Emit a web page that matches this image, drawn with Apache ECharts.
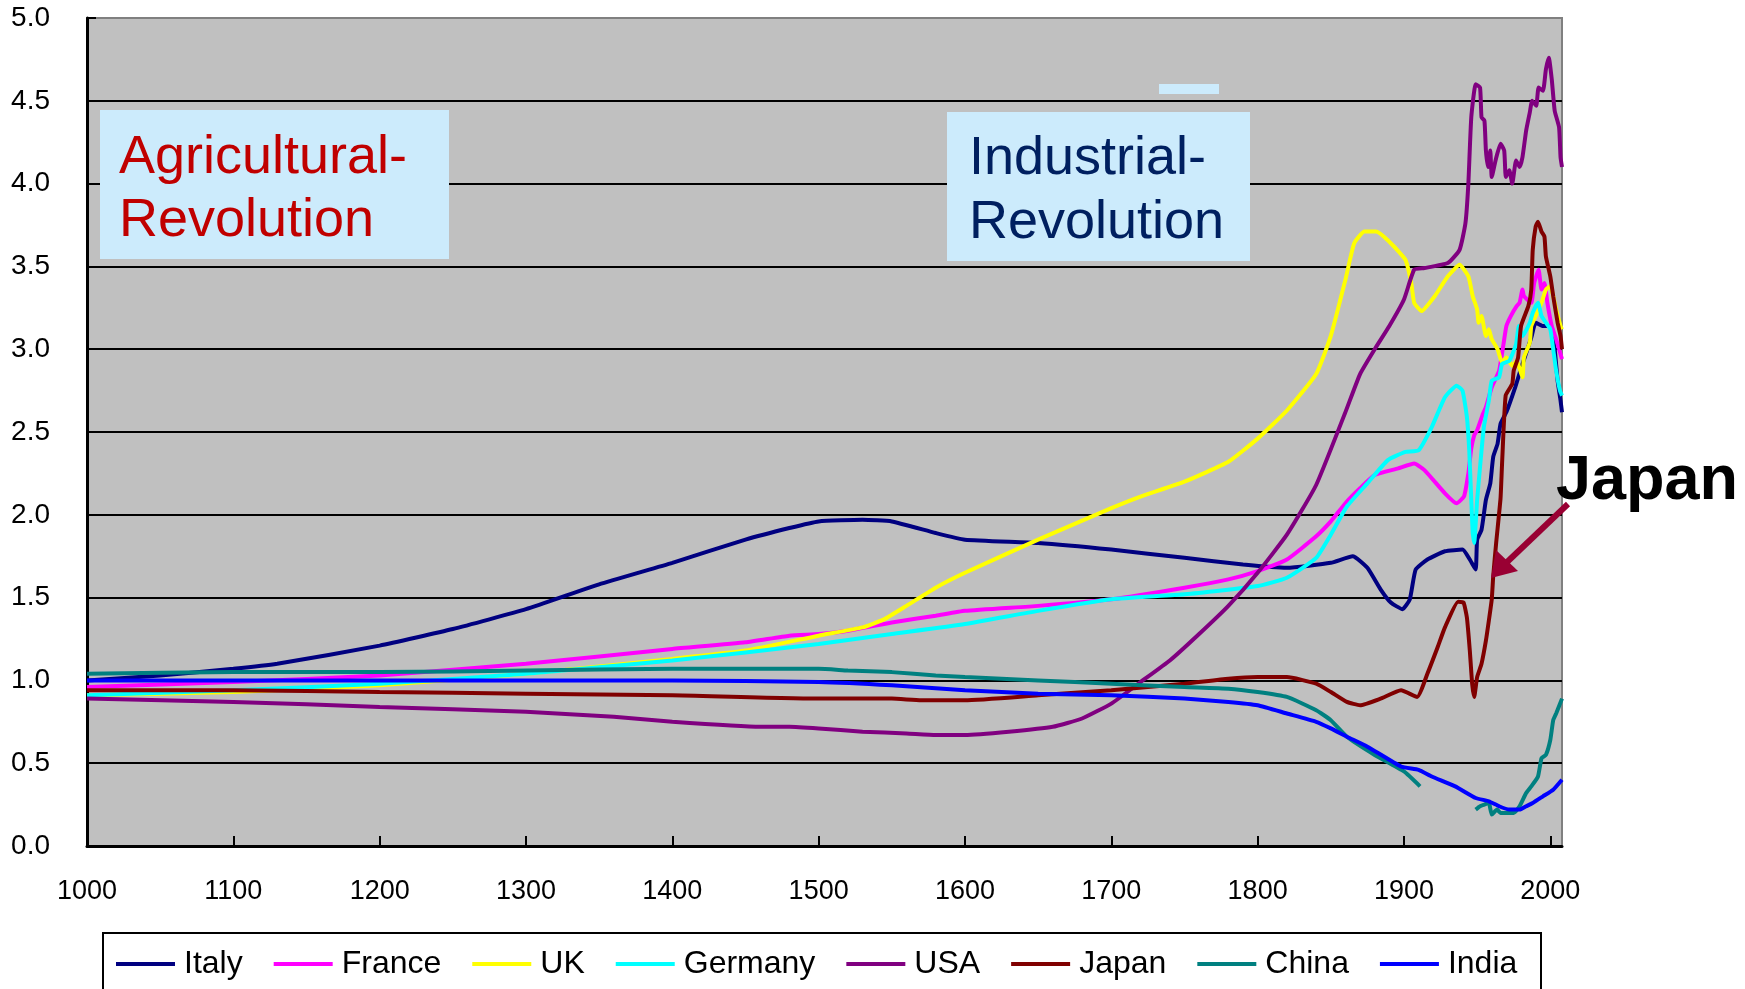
<!DOCTYPE html>
<html>
<head>
<meta charset="utf-8">
<script src="https://cdn.jsdelivr.net/npm/echarts@6/dist/echarts.min.js"></script>
<style>
html,body{margin:0;padding:0;background:#fff;}
#chart{width:1745px;height:989px;}
</style>
</head>
<body>
<div id="chart"></div>
<script>
// ---- data (year, relative value) ----
const seriesNames = ['Italy','France','UK','Germany','USA','Japan','China','India'];
const seriesColors = ['#000080','#FF00FF','#FFFF00','#00FFFF','#800080','#800000','#008080','#0000FF'];
const xTicks = [1000,1100,1200,1300,1400,1500,1600,1700,1800,1900,2000];
const yTicks = [0,0.5,1,1.5,2,2.5,3,3.5,4,4.5,5];

const italy = [[1000,1.0],[1050,1.03],[1100,1.07],[1130,1.1],[1200,1.21],[1250,1.31],[1300,1.43],[1350,1.58],[1400,1.71],[1450,1.85],[1480,1.92],[1500,1.96],[1530,1.97],[1550,1.96],[1580,1.89],[1600,1.85],[1650,1.83],[1700,1.79],[1750,1.74],[1790,1.70],[1820,1.68],[1850,1.71],[1865,1.75],[1875,1.68],[1884,1.55],[1891,1.47],[1899,1.43],[1904,1.49],[1908,1.67],[1916,1.73],[1928,1.78],[1940,1.79],[1945,1.73],[1949,1.67],[1950,1.85],[1953,1.91],[1956,2.09],[1959,2.19],[1961,2.35],[1964,2.43],[1966,2.55],[1970,2.62],[1976,2.77],[1981,2.91],[1987,3.07],[1990,3.16],[1995,3.14],[2000,3.14],[2003,3.0],[2005,2.81],[2007,2.69],[2008,2.62]];
const france = [[1000,0.96],[1100,0.99],[1200,1.03],[1300,1.1],[1400,1.19],[1450,1.23],[1480,1.27],[1500,1.28],[1520,1.3],[1550,1.35],[1580,1.39],[1600,1.42],[1650,1.45],[1700,1.49],[1750,1.56],[1780,1.61],[1800,1.66],[1820,1.73],[1840,1.87],[1850,1.96],[1860,2.07],[1870,2.16],[1880,2.24],[1896,2.28],[1907,2.31],[1914,2.27],[1928,2.13],[1936,2.07],[1941,2.11],[1944,2.25],[1946,2.4],[1948,2.48],[1950,2.51],[1954,2.61],[1956,2.65],[1960,2.77],[1965,2.87],[1968,3.03],[1970,3.14],[1973,3.2],[1977,3.26],[1979,3.28],[1981,3.36],[1982,3.32],[1987,3.28],[1989,3.4],[1992,3.48],[1994,3.36],[1996,3.4],[1998,3.28],[2001,3.14],[2004,3.06],[2008,2.94]];
const uk = [[1000,0.91],[1100,0.93],[1200,0.97],[1300,1.04],[1400,1.13],[1450,1.18],[1500,1.27],[1530,1.32],[1545,1.37],[1560,1.45],[1580,1.56],[1600,1.65],[1650,1.85],[1700,2.04],[1720,2.11],[1750,2.2],[1780,2.32],[1800,2.46],[1820,2.63],[1840,2.85],[1850,3.08],[1860,3.42],[1866,3.64],[1873,3.71],[1881,3.71],[1891,3.64],[1901,3.54],[1905,3.4],[1907,3.28],[1912,3.23],[1921,3.32],[1930,3.44],[1938,3.51],[1944,3.44],[1947,3.32],[1950,3.24],[1951,3.16],[1953,3.2],[1956,3.08],[1958,3.12],[1960,3.06],[1964,3.0],[1967,2.92],[1970,2.95],[1974,2.9],[1977,2.93],[1981,2.83],[1982,2.95],[1986,3.04],[1987,3.14],[1990,3.2],[1994,3.28],[1997,3.36],[2000,3.38],[2002,3.32],[2004,3.24],[2007,3.14],[2008,3.12]];
const germany = [[1000,0.91],[1100,0.94],[1200,0.98],[1300,1.04],[1400,1.12],[1500,1.22],[1550,1.28],[1600,1.34],[1650,1.42],[1700,1.49],[1750,1.52],[1800,1.57],[1820,1.62],[1840,1.74],[1850,1.88],[1861,2.05],[1875,2.19],[1889,2.33],[1901,2.38],[1910,2.39],[1919,2.53],[1928,2.71],[1936,2.78],[1940,2.75],[1943,2.59],[1944.6,2.39],[1946,2.09],[1947,1.89],[1948,1.83],[1950,2.09],[1952,2.29],[1954.6,2.53],[1958,2.69],[1960,2.81],[1965,2.83],[1967,2.91],[1972,2.93],[1976.6,3.03],[1978.5,3.14],[1981,3.08],[1986,3.16],[1988,3.22],[1991.6,3.28],[1994,3.2],[1997,3.16],[2000,3.12],[2002,3.0],[2004,2.87],[2006.6,2.75],[2008,2.72]];
const usa = [[1000,0.89],[1100,0.87],[1200,0.84],[1300,0.81],[1360,0.78],[1400,0.75],[1460,0.72],[1480,0.72],[1500,0.71],[1530,0.69],[1560,0.68],[1580,0.67],[1600,0.67],[1630,0.69],[1660,0.72],[1680,0.77],[1700,0.86],[1720,0.99],[1740,1.12],[1760,1.28],[1780,1.45],[1800,1.65],[1820,1.88],[1840,2.18],[1860,2.62],[1870,2.85],[1880,3.0],[1890,3.14],[1900,3.3],[1907,3.48],[1914,3.49],[1930,3.52],[1938,3.6],[1942,3.76],[1944,4.0],[1946,4.4],[1949,4.6],[1952,4.58],[1953,4.4],[1955,4.38],[1956,4.2],[1957.5,4.1],[1959,4.2],[1960,4.04],[1962.6,4.14],[1966,4.24],[1968.5,4.2],[1969.6,4.04],[1972,4.08],[1974,4.0],[1976.6,4.14],[1979,4.1],[1981,4.16],[1983.5,4.32],[1986,4.43],[1987.6,4.5],[1990.4,4.47],[1992,4.58],[1995,4.56],[1997,4.69],[1999,4.76],[2001,4.63],[2003,4.44],[2006,4.34],[2007,4.16],[2008,4.1]];
const japan = [[1000,0.94],[1100,0.94],[1200,0.93],[1300,0.92],[1400,0.91],[1500,0.89],[1550,0.89],[1570,0.88],[1600,0.88],[1650,0.91],[1700,0.94],[1750,0.98],[1780,1.01],[1800,1.02],[1820,1.02],[1840,0.98],[1850,0.93],[1861,0.87],[1870,0.85],[1884,0.89],[1898,0.94],[1909,0.9],[1916,1.04],[1923,1.2],[1928,1.32],[1937,1.475],[1940.7,1.47],[1943,1.38],[1945,1.18],[1946.6,0.98],[1948,0.9],[1950,1.02],[1953,1.1],[1956,1.24],[1958,1.36],[1960,1.49],[1961,1.63],[1963,1.83],[1966,2.1],[1967,2.3],[1969.5,2.72],[1974,2.79],[1975,2.87],[1978,2.95],[1980,3.14],[1985,3.26],[1987,3.36],[1988,3.6],[1990,3.74],[1991.6,3.77],[1994,3.71],[1996,3.68],[1997,3.56],[2000,3.44],[2002,3.32],[2005,3.16],[2007,3.08],[2008,3.0]];
const china = [[1000,1.04],[1100,1.05],[1200,1.05],[1300,1.06],[1400,1.07],[1500,1.07],[1520,1.06],[1550,1.05],[1580,1.03],[1600,1.02],[1650,1.0],[1700,0.98],[1750,0.96],[1780,0.95],[1800,0.93],[1820,0.9],[1840,0.82],[1850,0.76],[1861,0.66],[1880,0.55],[1900,0.45],[1911,0.36],[1930,null],[1949,0.22],[1952,0.24],[1955,0.25],[1958,0.26],[1960,0.19],[1963.6,0.22],[1966,0.2],[1970,0.2],[1975,0.2],[1979,0.24],[1983.5,0.32],[1987,0.36],[1991.6,0.42],[1994,0.53],[1997,0.55],[2000,0.64],[2002,0.76],[2004,0.8],[2008,0.89]];
const india = [[1000,1.0],[1200,1.0],[1400,1.0],[1500,0.99],[1550,0.97],[1600,0.94],[1650,0.92],[1700,0.91],[1750,0.89],[1780,0.87],[1800,0.85],[1820,0.8],[1840,0.75],[1850,0.71],[1861,0.66],[1875,0.6],[1898,0.48],[1910,0.46],[1919,0.42],[1935,0.36],[1949,0.29],[1958,0.27],[1965,0.24],[1972,0.22],[1979,0.22],[1983.5,0.24],[1988,0.26],[1995,0.3],[2002,0.34],[2008,0.4]];
const seriesData = [italy, france, uk, germany, usa, japan, china, india];

const FONT = '"Liberation Sans", Arial, sans-serif';
const chart = echarts.init(document.getElementById('chart'), null, {renderer:'canvas'});

const option = {
  animation: false,
  backgroundColor: '#ffffff',
  grid: {left: 87, top: 18, right: 183, bottom: 143, show: true,
         backgroundColor: '#C0C0C0', borderColor: '#808080', borderWidth: 2},
  xAxis: {
    type: 'value', min: 1000, max: 2008, interval: 100,
    axisLine: {show: true, onZero: false, lineStyle: {color: '#000', width: 3}},
    axisTick: {show: true, inside: true, length: 10, lineStyle: {color: '#000', width: 2}},
    axisLabel: {margin: 32, fontSize: 27, fontFamily: FONT, color: '#000', showMaxLabel: false,
                formatter: v => (xTicks.indexOf(v) >= 0 ? String(v) : '')},
    splitLine: {show: false}
  },
  yAxis: {
    type: 'value', min: yTicks[0], max: yTicks[yTicks.length-1], interval: 0.5,
    axisLine: {show: true, lineStyle: {color: '#000', width: 3}},
    axisTick: {show: true, inside: true, length: 9, lineStyle: {color: '#000', width: 2}},
    axisLabel: {margin: 37, fontSize: 28, fontFamily: FONT, color: '#000', padding: [7,0,0,0],
                formatter: v => v.toFixed(1)},
    splitLine: {show: true, showMaxLine: false, showMinLine: false, lineStyle: {color: '#000', width: 2}}
  },
  legend: {
    data: seriesNames, left: 116, top: 946, padding: 0, itemGap: 31, z: 50,
    itemWidth: 59, itemHeight: 4, icon: 'rect',
    textStyle: {fontSize: 32, fontFamily: FONT, color: '#000', padding: [0,0,0,4], lineHeight: 36}
  },
  series: seriesNames.map((name, i) => ({
    name, type: 'line', data: seriesData[i], showSymbol: false, symbol: 'none',
    smooth: 0.15, connectNulls: false, clip: true,
    color: seriesColors[i],
    lineStyle: {color: seriesColors[i], width: 4},
    emphasis: {disabled: true}, z: 2 + i
  })),
  graphic: [
    {type:'rect', z: 1, shape:{x:103, y:933, width:1438, height:80}, style:{fill:'#fff', stroke:'#000', lineWidth:2}, silent:true},
    {type:'rect', z: 100, shape:{x:100, y:110, width:349, height:149}, style:{fill:'#CCEBFC'}},
    {type:'text', z: 101, style:{x:119, y:158, text:'Agricultural-', font:'54px ' + FONT, fill:'#C00000', verticalAlign:'middle'}},
    {type:'text', z: 101, style:{x:119, y:221.5, text:'Revolution', font:'54px ' + FONT, fill:'#C00000', verticalAlign:'middle'}},
    {type:'rect', z: 100, shape:{x:947, y:112, width:303, height:149}, style:{fill:'#CCEBFC'}},
    {type:'text', z: 101, style:{x:969, y:159, text:'Industrial-', font:'54px ' + FONT, fill:'#002060', verticalAlign:'middle'}},
    {type:'text', z: 101, style:{x:969, y:223, text:'Revolution', font:'54px ' + FONT, fill:'#002060', verticalAlign:'middle'}},
    {type:'rect', z: 100, shape:{x:1159, y:84, width:60, height:10}, style:{fill:'#CCEBFC'}},
    {type:'text', z: 101, style:{x:1556, y:482, text:'Japan', font:'bold 63px ' + FONT, fill:'#000', verticalAlign:'middle'}},
    {type:'line', z: 101, shape:{x1:1568, y1:504, x2:1505, y2:564}, style:{stroke:'#990033', lineWidth:6}},
    {type:'polygon', z: 101, shape:{points:[[1491,578],[1496,550],[1518,571]]}, style:{fill:'#990033'}}
  ]
};
chart.setOption(option);
</script>
</body>
</html>
